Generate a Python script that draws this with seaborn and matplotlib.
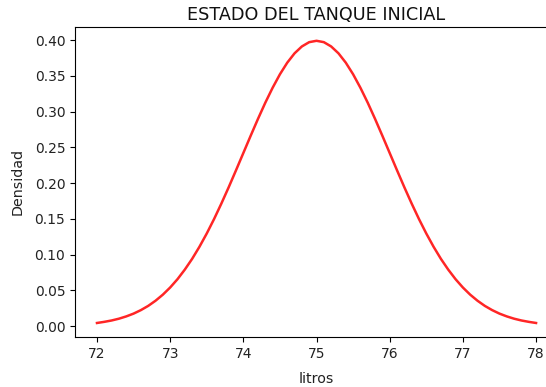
import matplotlib
matplotlib.use("Agg")
import matplotlib.pyplot as plt
import seaborn as sns
import pandas as pd

# Tank level density, sampled every 0.1 litre
litros = [round(72 + 0.1 * i, 1) for i in range(61)]
densidad_izq = [0.0044, 0.0060, 0.0079, 0.0104, 0.0136, 0.0175, 0.0224, 0.0283,
                0.0355, 0.0440, 0.0540, 0.0656, 0.0790, 0.0940, 0.1109, 0.1295,
                0.1497, 0.1714, 0.1942, 0.2179, 0.2420, 0.2661, 0.2897, 0.3123,
                0.3332, 0.3521, 0.3683, 0.3814, 0.3910, 0.3970]
densidad_pico = [0.3989]
densidad = densidad_izq + densidad_pico + densidad_izq[::-1]

df = pd.DataFrame({"litros": litros, "Densidad": densidad})

fig = plt.figure(figsize=(5.46, 3.87), dpi=100)
ax = fig.add_axes([0.1374, 0.129, 0.8846, 0.802])
sns.lineplot(data=df, x="litros", y="Densidad", color="red", alpha=0.85,
             linewidth=1.8, ax=ax)
ax.set_xticks([72, 73, 74, 75, 76, 77, 78])
ax.set_yticks([0.0, 0.05, 0.10, 0.15, 0.20, 0.25, 0.30, 0.35, 0.40])
ax.set_yticklabels([f"{v:.2f}" for v in ax.get_yticks()])
ax.set_xlim(71.7, 78.3)
ax.set_ylim(-0.0153, 0.4186)
ax.tick_params(labelsize=10, labelcolor="#222222")
ax.set_xlabel("litros", fontsize=10.3, labelpad=8, color="#222222")
ax.set_ylabel("Densidad", fontsize=10.3, labelpad=7, color="#222222")
ax.set_title("ESTADO DEL TANQUE INICIAL", fontsize=12.7, pad=5, color="#111111")
fig.savefig("out.png", dpi=100)
